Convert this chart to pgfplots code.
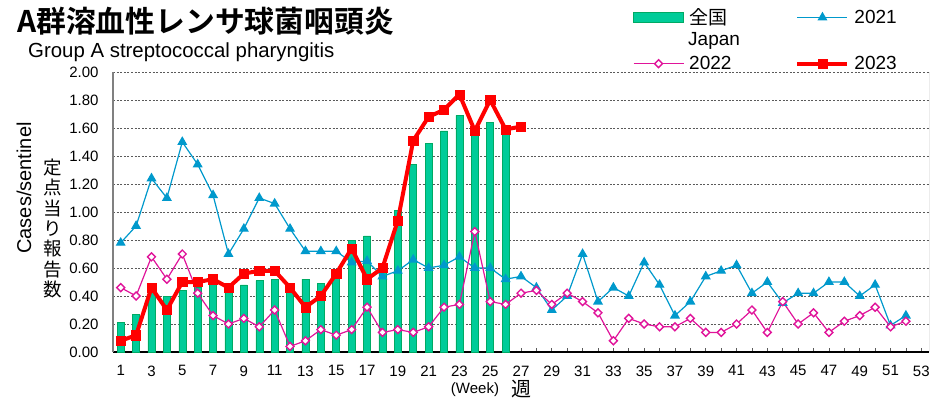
\documentclass[border=0pt]{standalone}
\usepackage{fontspec}
\setmainfont{Liberation Sans}
\newfontfamily\cjk{Noto Sans CJK JP}
\newfontfamily\cjkb{Noto Sans CJK JP Bold}
\usepackage{pgfplots}
\pgfplotsset{compat=1.18}
\definecolor{jgreen}{RGB}{0,204,153}
\definecolor{jgreenE}{RGB}{0,170,100}
\definecolor{c2021}{RGB}{0,153,204}
\definecolor{c2022}{RGB}{224,20,154}
\definecolor{c2023}{RGB}{255,0,0}
\definecolor{gridc}{RGB}{90,90,90}

\pgfplotsset{
  longline/.style={legend image code/.code={\draw[mark repeat=2, mark phase=2, ##1] plot coordinates {(0pt,0pt) (25pt,0pt) (50pt,0pt)};}},
  barbox/.style={legend image code/.code={\fill[fill=jgreen, draw=jgreenE] (0pt,-5pt) rectangle (50pt,5pt);}},
}

% weekly cases per sentinel
\pgfplotstableread{
w  v
1  0.21
2  0.27
3  0.43
4  0.40
5  0.44
6  0.46
7  0.50
8  0.45
9  0.48
10 0.51
11 0.52
12 0.44
13 0.52
14 0.49
15 0.56
16 0.80
17 0.83
18 0.61
19 1.01
20 1.34
21 1.49
22 1.58
23 1.69
24 1.56
25 1.64
26 1.58
}\japan
\pgfplotstableread{
w  v
1  0.78
2  0.90
3  1.24
4  1.10
5  1.50
6  1.34
7  1.12
8  0.70
9  0.88
10 1.10
11 1.06
12 0.88
13 0.72
14 0.72
15 0.72
16 0.64
17 0.65
18 0.54
19 0.58
20 0.66
21 0.60
22 0.62
23 0.68
24 0.60
25 0.60
26 0.52
27 0.54
28 0.46
29 0.30
30 0.40
31 0.70
32 0.36
33 0.46
34 0.40
35 0.64
36 0.48
37 0.26
38 0.36
39 0.54
40 0.58
41 0.62
42 0.42
43 0.50
44 0.35
45 0.42
46 0.42
47 0.50
48 0.50
49 0.40
50 0.48
51 0.19
52 0.26
}\ytwentyone
\pgfplotstableread{
w  v
1  0.46
2  0.40
3  0.68
4  0.52
5  0.70
6  0.42
7  0.26
8  0.20
9  0.24
10 0.18
11 0.30
12 0.04
13 0.08
14 0.16
15 0.12
16 0.16
17 0.32
18 0.14
19 0.16
20 0.14
21 0.18
22 0.32
23 0.34
24 0.86
25 0.36
26 0.34
27 0.42
28 0.44
29 0.34
30 0.42
31 0.36
32 0.28
33 0.08
34 0.24
35 0.20
36 0.18
37 0.18
38 0.24
39 0.14
40 0.14
41 0.20
42 0.30
43 0.14
44 0.36
45 0.20
46 0.28
47 0.14
48 0.22
49 0.26
50 0.32
51 0.18
52 0.22
}\ytwentytwo
\pgfplotstableread{
w  v
1  0.08
2  0.12
3  0.46
4  0.30
5  0.50
6  0.50
7  0.52
8  0.46
9  0.56
10 0.58
11 0.58
12 0.46
13 0.32
14 0.40
15 0.56
16 0.74
17 0.52
18 0.60
19 0.94
20 1.51
21 1.68
22 1.73
23 1.84
24 1.58
25 1.80
26 1.59
27 1.61
}\ytwentythree

\begin{document}
\begin{tikzpicture}
\path[use as bounding box] (0pt,0pt) rectangle (933pt,400pt);
\begin{axis}[
  at={(113pt,48pt)}, anchor=south west,
  width=816pt, height=280pt, scale only axis,
  xmin=0.5, xmax=53.5, ymin=0, ymax=2,
  axis x line*=bottom, axis y line*=left,
  x axis line style={black, line width=1.2pt},
  y axis line style={gray, line width=1.2pt},
  xtick={1,3,...,53}, minor xtick={2,4,...,52},
  ytick={0,0.2,...,2},
  tick align=inside, major tick length=4pt, minor tick length=4pt,
  xtick style={gridc, line width=0.6pt},
  ytick style={draw=none},
  ymajorgrids,
  major grid style={gridc, dash pattern=on 2pt off 1.6pt, line width=0.8pt},
  tick label style={font=\fontsize{15}{15}\selectfont},
  xticklabel style={yshift=-10pt},
  yticklabel style={xshift=-11pt, /pgf/number format/.cd, fixed, fixed zerofill, precision=2},
  /pgf/number format/assume math mode=true,
  legend style={at={(0.637,1.2265)}, anchor=north west, draw=none, fill=none,
    inner sep=0pt, font=\fontsize{19}{19}\selectfont,
    row sep=30pt,
    nodes={inner sep=0pt},
    /tikz/every odd column/.append style={column sep=5pt},
    /tikz/every even column/.append style={column sep=64pt}},
  legend columns=2,
  legend cell align=left,
]
\addplot[ybar, bar width=7pt, bar shift=0pt, fill=jgreen, draw=jgreenE, line width=0.5pt, barbox]
  table[x=w, y=v] {\japan};
\addlegendentry{\cjk 全国}
\addplot[c2021, line width=1.2pt, mark=triangle*, mark size=4.6pt, longline]
  table[x=w, y=v] {\ytwentyone};
\addlegendentry{2021}
\addplot[c2022, line width=1.2pt, mark=square*, mark size=2.8pt,
  mark options={rotate=45, fill=white, line width=1.4pt}, longline]
  table[x=w, y=v] {\ytwentytwo};
\addlegendentry{2022}
\addplot[c2023, line width=4pt, mark=square*, mark size=4.6pt, mark options={line width=0.5pt}, longline]
  table[x=w, y=v] {\ytwentythree};
\addlegendentry{2023}
\draw[gray!80!black, line width=1pt] (rel axis cs:1,0) -- (rel axis cs:1,1);
\end{axis}
\node[anchor=base west, inner sep=0pt, font=\cjkb\fontsize{29.8}{29.8}\selectfont] at (17pt,367pt) {A群溶血性レンサ球菌咽頭炎};
\node[anchor=base west, inner sep=0pt, font=\fontsize{20.4}{20.4}\selectfont] at (28pt,342pt) {Group A streptococcal pharyngitis};
\node[anchor=base west, inner sep=0pt, font=\fontsize{19}{19}\selectfont] at (688pt,355pt) {Japan};
\node[rotate=90, inner sep=0pt, font=\fontsize{20}{20}\selectfont] at (24pt,212pt) {Cases/sentinel};
\foreach \c [count=\i from 0] in {定,点,当,り,報,告,数}
  \node[inner sep=0pt, font=\cjk\fontsize{18.5}{18.5}\selectfont] at (53pt,{232.5pt-\i*20.33pt}) {\c};
\node[inner sep=0pt, font=\fontsize{15}{15}\selectfont] at (475pt,10pt) {(Week)};
\node[inner sep=0pt, font=\cjk\fontsize{20}{20}\selectfont] at (521pt,11pt) {週};
\end{tikzpicture}
\end{document}
